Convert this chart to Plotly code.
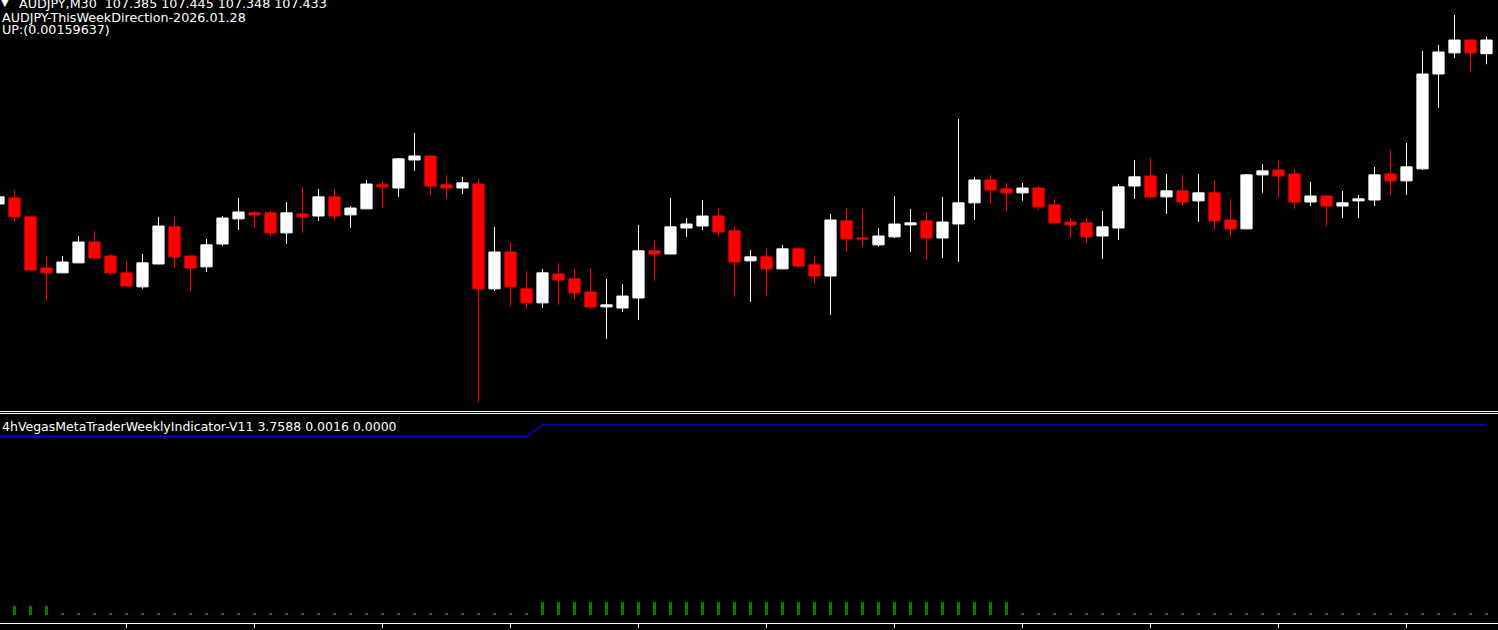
import plotly.graph_objects as go

# ---------------- DATA ----------------
# bar index (-1 is the partially visible bar at the left edge)
bar_index = list(range(-1, 93))

opens = [
    106.859,
    106.880, 106.814, 106.635, 106.618, 106.653, 106.726, 106.677, 106.618, 106.569, 106.649,
    106.779, 106.677, 106.639, 106.719, 106.807, 106.828, 106.828, 106.758, 106.824, 106.817,
    106.884, 106.821, 106.842, 106.926, 106.915, 107.013, 107.027, 106.926, 106.915, 106.929,
    106.562, 106.691, 106.562, 106.513, 106.614, 106.597, 106.551, 106.499, 106.495, 106.530,
    106.695, 106.684, 106.775, 106.782, 106.817, 106.765, 106.660, 106.674, 106.632, 106.702,
    106.646, 106.607, 106.800, 106.740, 106.716, 106.744, 106.786, 106.800, 106.740, 106.789,
    106.863, 106.943, 106.912, 106.898, 106.915, 106.856, 106.796, 106.793, 106.747, 106.775,
    106.922, 106.957, 106.884, 106.905, 106.870, 106.898, 106.803, 106.772, 106.961, 106.978,
    106.964, 106.866, 106.887, 106.852, 106.870, 106.873, 106.964, 106.940, 106.982, 107.314,
    107.388, 107.433, 107.385,
]
highs = [
    106.891,
    106.908, 106.814, 106.677, 106.677, 106.747, 106.765, 106.684, 106.660, 106.684, 106.814,
    106.814, 106.681, 106.737, 106.817, 106.880, 106.835, 106.838, 106.866, 106.919, 106.912,
    106.912, 106.852, 106.943, 106.940, 107.020, 107.108, 107.027, 106.961, 106.954, 106.947,
    106.779, 106.726, 106.625, 106.632, 106.653, 106.632, 106.635, 106.597, 106.579, 106.786,
    106.733, 106.880, 106.810, 106.873, 106.845, 106.779, 106.698, 106.702, 106.716, 106.709,
    106.677, 106.824, 106.845, 106.842, 106.775, 106.887, 106.842, 106.831, 106.884, 107.157,
    106.954, 106.961, 106.933, 106.933, 106.922, 106.877, 106.810, 106.810, 106.835, 106.929,
    107.013, 107.020, 106.964, 106.961, 106.964, 106.943, 106.877, 106.964, 106.999, 107.010,
    106.982, 106.936, 106.891, 106.905, 106.891, 106.989, 107.048, 107.073, 107.395, 107.416,
    107.521, 107.433, 107.445,
]
lows = [
    106.852,
    106.796, 106.625, 106.520, 106.618, 106.653, 106.667, 106.611, 106.569, 106.562, 106.649,
    106.635, 106.555, 106.621, 106.712, 106.768, 106.775, 106.747, 106.719, 106.758, 106.800,
    106.800, 106.775, 106.842, 106.845, 106.884, 106.975, 106.891, 106.877, 106.894, 106.166,
    106.555, 106.502, 106.492, 106.495, 106.506, 106.523, 106.492, 106.387, 106.481, 106.453,
    106.590, 106.684, 106.744, 106.768, 106.744, 106.534, 106.516, 106.537, 106.632, 106.635,
    106.579, 106.471, 106.691, 106.709, 106.709, 106.740, 106.691, 106.663, 106.670, 106.656,
    106.803, 106.859, 106.835, 106.870, 106.838, 106.786, 106.740, 106.723, 106.667, 106.733,
    106.877, 106.877, 106.824, 106.852, 106.796, 106.768, 106.744, 106.772, 106.898, 106.880,
    106.842, 106.852, 106.782, 106.810, 106.810, 106.852, 106.891, 106.891, 106.978, 107.195,
    107.370, 107.321, 107.348,
]
closes = [
    106.884,
    106.814, 106.628, 106.618, 106.656, 106.726, 106.670, 106.618, 106.572, 106.653, 106.782,
    106.674, 106.635, 106.716, 106.810, 106.831, 106.821, 106.758, 106.828, 106.814, 106.884,
    106.817, 106.845, 106.929, 106.919, 107.017, 107.027, 106.922, 106.915, 106.933, 106.562,
    106.691, 106.569, 106.513, 106.618, 106.593, 106.548, 106.499, 106.506, 106.537, 106.695,
    106.684, 106.779, 106.789, 106.817, 106.761, 106.656, 106.674, 106.632, 106.702, 106.642,
    106.607, 106.803, 106.737, 106.737, 106.747, 106.789, 106.793, 106.740, 106.796, 106.863,
    106.943, 106.908, 106.898, 106.915, 106.849, 106.793, 106.786, 106.744, 106.779, 106.919,
    106.954, 106.884, 106.905, 106.866, 106.898, 106.800, 106.772, 106.961, 106.975, 106.957,
    106.866, 106.887, 106.852, 106.863, 106.877, 106.961, 106.940, 106.989, 107.314, 107.391,
    107.433, 107.388, 107.433,
]

# indicator sub-window: blue line buffer (bars -1 .. 92)
indicator_line = [
    3.535,
    3.535, 3.535, 3.535, 3.535, 3.535, 3.535, 3.535, 3.535, 3.535, 3.535,
    3.535, 3.535, 3.535, 3.535, 3.535, 3.535, 3.535, 3.535, 3.535, 3.535,
    3.535, 3.535, 3.535, 3.535, 3.535, 3.535, 3.535, 3.535, 3.535, 3.535,
    3.535, 3.535, 3.535, 3.7588, 3.7588, 3.7588, 3.7588, 3.7588, 3.7588, 3.7588,
    3.7588, 3.7588, 3.7588, 3.7588, 3.7588, 3.7588, 3.7588, 3.7588, 3.7588, 3.7588,
    3.7588, 3.7588, 3.7588, 3.7588, 3.7588, 3.7588, 3.7588, 3.7588, 3.7588, 3.7588,
    3.7588, 3.7588, 3.7588, 3.7588, 3.7588, 3.7588, 3.7588, 3.7588, 3.7588, 3.7588,
    3.7588, 3.7588, 3.7588, 3.7588, 3.7588, 3.7588, 3.7588, 3.7588, 3.7588, 3.7588,
    3.7588, 3.7588, 3.7588, 3.7588, 3.7588, 3.7588, 3.7588, 3.7588, 3.7588, 3.7588,
    3.7588, 3.7588, 3.7588,
]
# second (thicker) blue buffer, only at the left start
indicator_line2 = [3.535, 3.535, 3.535, 3.535] + [None] * 90

# green histogram buffer (bars -1 .. 92)
indicator_hist = [
    0.02,
    0.169, 0.169, 0.169, 0.02, 0.02, 0.02, 0.02, 0.02, 0.02, 0.02,
    0.02, 0.02, 0.02, 0.02, 0.02, 0.02, 0.02, 0.02, 0.02, 0.02,
    0.02, 0.02, 0.02, 0.02, 0.02, 0.02, 0.02, 0.02, 0.02, 0.02,
    0.02, 0.02, 0.02, 0.252, 0.252, 0.252, 0.252, 0.252, 0.252, 0.252,
    0.252, 0.252, 0.252, 0.252, 0.252, 0.252, 0.252, 0.252, 0.252, 0.252,
    0.252, 0.252, 0.252, 0.252, 0.252, 0.252, 0.252, 0.252, 0.252, 0.252,
    0.252, 0.252, 0.252, 0.02, 0.02, 0.02, 0.02, 0.02, 0.02, 0.02,
    0.02, 0.02, 0.02, 0.02, 0.02, 0.02, 0.02, 0.02, 0.02, 0.02,
    0.02, 0.02, 0.02, 0.02, 0.02, 0.02, 0.02, 0.02, 0.02, 0.02,
    0.02, 0.02, 0.02,
]

time_ticks = [7, 15, 23, 31, 39, 47, 55, 63, 71, 79, 87]

header_line1 = "AUDJPY,M30 \u00a0107.385 107.445 107.348 107.433"
header_line2 = "AUDJPY-ThisWeekDirection-2026.01.28"
header_line3 = "UP:(0.00159637)"
indicator_label = "4hVegasMetaTraderWeeklyIndicator-V11 3.7588 0.0016 0.0000"

# ---------------- FIGURE ----------------
W, H = 1498, 630
FONT = "DejaVu Sans"

fig = go.Figure()

fig.add_trace(go.Candlestick(
    x=bar_index, open=opens, high=highs, low=lows, close=closes,
    increasing=dict(line=dict(color="#FFFFFF", width=1), fillcolor="#FFFFFF"),
    decreasing=dict(line=dict(color="#FF0000", width=1), fillcolor="#FF0000"),
    whiskerwidth=0, xaxis="x", yaxis="y", showlegend=False,
))

fig.add_trace(go.Bar(
    x=bar_index, y=indicator_hist, marker=dict(color="#008000", line=dict(width=0)),
    width=0.13, xaxis="x2", yaxis="y2", showlegend=False,
))
fig.add_trace(go.Scatter(
    x=bar_index, y=indicator_line, mode="lines",
    line=dict(color="#0000E6", width=1.3), xaxis="x2", yaxis="y2", showlegend=False,
))
fig.add_trace(go.Scatter(
    x=bar_index, y=indicator_line2, mode="lines",
    line=dict(color="#0000E6", width=2.2), xaxis="x2", yaxis="y2", showlegend=False,
))

# pixel geometry helpers
def py(p):
    return 1 - p / H

x_range = [-14.5 / 16, (W - 14.5) / 16]
price_top = 107.573
ppx = 0.0035
main_bottom_px = 411.0
ind_top_px, ind_bottom_px = 414.0, 622.5
ind_scale = 0.019836
ind_zero_px = 614.5

fig.update_layout(
    width=W, height=H,
    margin=dict(l=0, r=0, t=0, b=0),
    paper_bgcolor="#000000", plot_bgcolor="#000000",
    showlegend=False, hovermode=False,
    boxgap=0.3, boxgroupgap=0,
    bargap=0,
    xaxis=dict(domain=[0, 1], range=x_range, anchor="y",
               showgrid=False, zeroline=False, showticklabels=False, ticks="",
               showline=True, linecolor="#FFFFFF", linewidth=1,
               rangeslider=dict(visible=False)),
    yaxis=dict(domain=[py(main_bottom_px), 1],
               range=[price_top - ppx * main_bottom_px, price_top],
               showgrid=False, zeroline=False, showticklabels=False, ticks="",
               showline=False),
    xaxis2=dict(domain=[0, 1], range=x_range, anchor="y2", matches="x",
                showgrid=False, zeroline=False, showticklabels=False,
                ticks="outside", ticklen=4, tickwidth=1, tickcolor="#FFFFFF",
                tickmode="array", tickvals=time_ticks,
                showline=True, linecolor="#FFFFFF", linewidth=1, mirror=True),
    yaxis2=dict(domain=[py(ind_bottom_px), py(ind_top_px)],
                range=[-(ind_bottom_px - ind_zero_px) * ind_scale,
                       (ind_zero_px - ind_top_px) * ind_scale],
                showgrid=False, zeroline=False, showticklabels=False, ticks="",
                showline=False),
    font=dict(family=FONT, color="#FFFFFF", size=12),
)

def label(text, xpx, ypx, size=12.7):
    fig.add_annotation(text=text, xref="paper", yref="paper",
                       x=xpx / W, y=py(ypx), xanchor="left", yanchor="middle",
                       showarrow=False, font=dict(family=FONT, size=size, color="#FFFFFF"),
                       borderpad=0)

label("\u25bc", 0, 3, size=10)
label(header_line1, 18, 4)
label(header_line2, 1, 17)
label(header_line3, 1, 29)
label(indicator_label, 1, 426, size=12.5)

fig.write_html(
    "out.html",
    config={"displayModeBar": False, "staticPlot": True},
    post_script="document.body.style.margin='0';document.body.style.background='#000';"
                "document.body.style.overflow='hidden';",
)
